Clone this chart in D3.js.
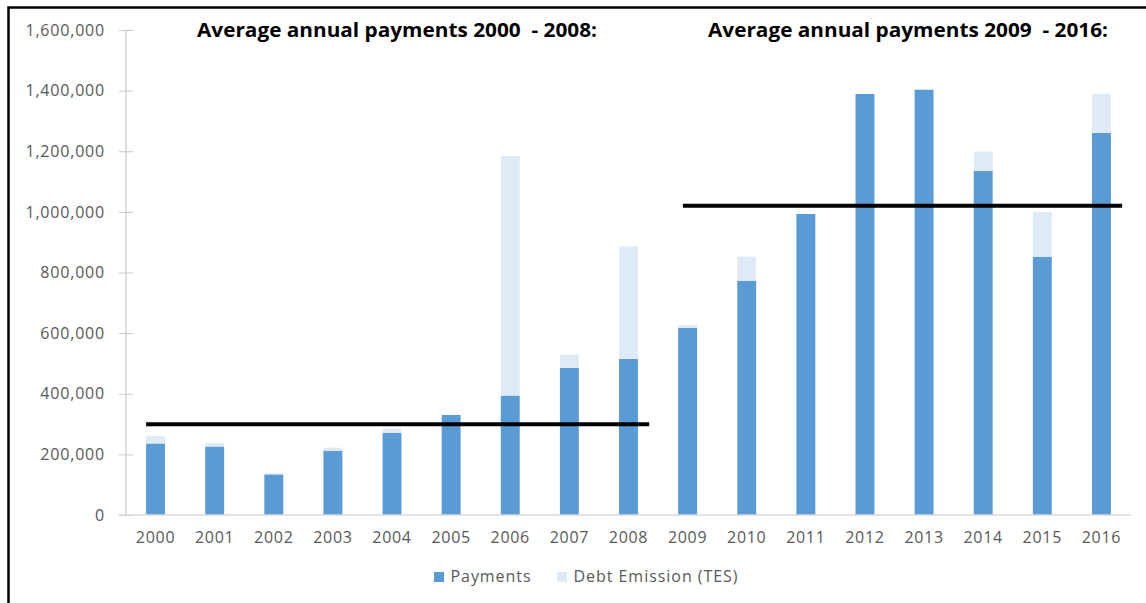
<!DOCTYPE html>
<html>
<head>
<meta charset="utf-8">
<script src="https://cdn.jsdelivr.net/npm/d3@7"></script>
<style>
  html, body { margin: 0; padding: 0; background: #ffffff; }
  svg { display: block; }
</style>
</head>
<body>
<svg id="chart" width="1146" height="603"></svg>
<script>
// Annual payments with the part financed through debt emission (TES) stacked on top
const years = ["2000","2001","2002","2003","2004","2005","2006","2007","2008",
               "2009","2010","2011","2012","2013","2014","2015","2016"];
const payments = [236000, 226000, 134000, 212000, 271000, 330000, 394000, 486000, 515000,
                  618000, 773000, 993000, 1389000, 1403000, 1135000, 852000, 1261000];
const debtEmission = [24000, 11000, 4000, 10000, 14000, 0, 790000, 43000, 371000,
                      9000, 79000, 0, 0, 0, 64000, 147000, 128000];
const yTicks = [0, 200000, 400000, 600000, 800000, 1000000, 1200000, 1400000, 1600000];
const seriesNames = ["Payments", "Debt Emission (TES)"];
const seriesColors = ["#5b9bd5", "#deebf7"];

// Period averages drawn as horizontal reference lines
const periodTitles = ["Average annual payments 2000  - 2008:", "Average annual payments 2009  - 2016:"];
const periodFrom = ["2000", "2009"];
const periodTo = ["2008", "2016"];
const periodAverage = [299000, 1020000];

const svg = d3.select("#chart");
const margin = { left: 126, right: 15, top: 30, bottom: 88 };
const W = 1146, H = 603;
const font = "'Open Sans', sans-serif";

const x = d3.scaleBand().domain(years).range([margin.left, W - margin.right]).paddingInner(0.68).paddingOuter(0.34);
const y = d3.scaleLinear().domain([0, 1600000]).range([H - margin.bottom, margin.top]);

// outer frame
svg.append("rect")
  .attr("x", 8.5).attr("y", 7.5).attr("width", 1200).attr("height", 700)
  .attr("fill", "none").attr("stroke", "#000").attr("stroke-width", 2.5);

const rows = years.map((yr, i) => ({ year: yr, payments: payments[i], debt: debtEmission[i] }));
const layers = d3.stack().keys(["payments", "debt"])(rows);

// y axis
const yAxis = d3.axisLeft(y).tickValues(yTicks).tickFormat(d3.format(",")).tickSize(7).tickPadding(14);
const gy = svg.append("g").attr("transform", `translate(${margin.left},0)`).call(yAxis);
gy.select(".domain").attr("stroke", "#c8c8c8").attr("stroke-width", 1.2).attr("d", `M0,${y(1600000)}V${y(0)}`);
gy.selectAll(".tick line").attr("stroke", "#c8c8c8").attr("x1", 7).attr("x2", -7);
gy.selectAll(".tick text")
  .attr("fill", "#595959").attr("font-family", font).attr("font-size", 16)
  .attr("letter-spacing", 0.8);

// bars
svg.append("g").selectAll("g").data(layers).join("g")
  .attr("fill", (d, i) => seriesColors[i])
  .selectAll("rect").data(d => d.filter(s => s[1] > s[0])).join("rect")
  .attr("x", d => x(d.data.year))
  .attr("width", x.bandwidth())
  .attr("y", d => y(d[1]))
  .attr("height", d => y(d[0]) - y(d[1]));

// x axis
const xAxis = d3.axisBottom(x).tickSize(0).tickPadding(17);
const gx = svg.append("g").attr("transform", `translate(0,${y(0)})`).call(xAxis);
gx.select(".domain").attr("stroke", "#d9d9d9").attr("stroke-width", 1.5)
  .attr("d", `M${margin.left - 7},0H${W - margin.right}`);
gx.selectAll(".tick text")
  .attr("fill", "#595959").attr("font-family", font).attr("font-size", 16)
  .attr("letter-spacing", 0.7);

// period average lines, extending slightly past the bars they cover
const step = x.step();
const startOffset = [0, 0.08];
const endOffset = [0.19, 0.19];
svg.append("g").selectAll("line").data(periodAverage).join("line")
  .attr("x1", (d, i) => x(periodFrom[i]) + startOffset[i] * step)
  .attr("x2", (d, i) => x(periodTo[i]) + x.bandwidth() + endOffset[i] * step)
  .attr("y1", d => y(d)).attr("y2", d => y(d))
  .attr("stroke", "#000").attr("stroke-width", 4);

// period titles
const titleLeft = [197, 708];
svg.append("g").selectAll("text").data(periodTitles).join("text")
  .attr("x", (d, i) => titleLeft[i]).attr("y", 37)
  .attr("font-family", font).attr("font-weight", "bold").attr("font-size", 19.5)
  .attr("fill", "#000")
  .attr("textLength", 400).attr("lengthAdjust", "spacingAndGlyphs")
  .style("white-space", "pre")
  .text(d => d);

// legend
const legendX = [434, 557];
const legendTextWidth = [80, 164];
const lg = svg.append("g").selectAll("g").data(seriesNames).join("g")
  .attr("transform", (d, i) => `translate(${legendX[i]},572)`);
lg.append("rect").attr("width", 10).attr("height", 10).attr("fill", (d, i) => seriesColors[i]);
lg.append("text").attr("x", 16.5).attr("y", 9.5)
  .attr("fill", "#595959").attr("font-family", font).attr("font-size", 16)
  .attr("textLength", (d, i) => legendTextWidth[i]).attr("lengthAdjust", "spacing")
  .text(d => d);
</script>
</body>
</html>
